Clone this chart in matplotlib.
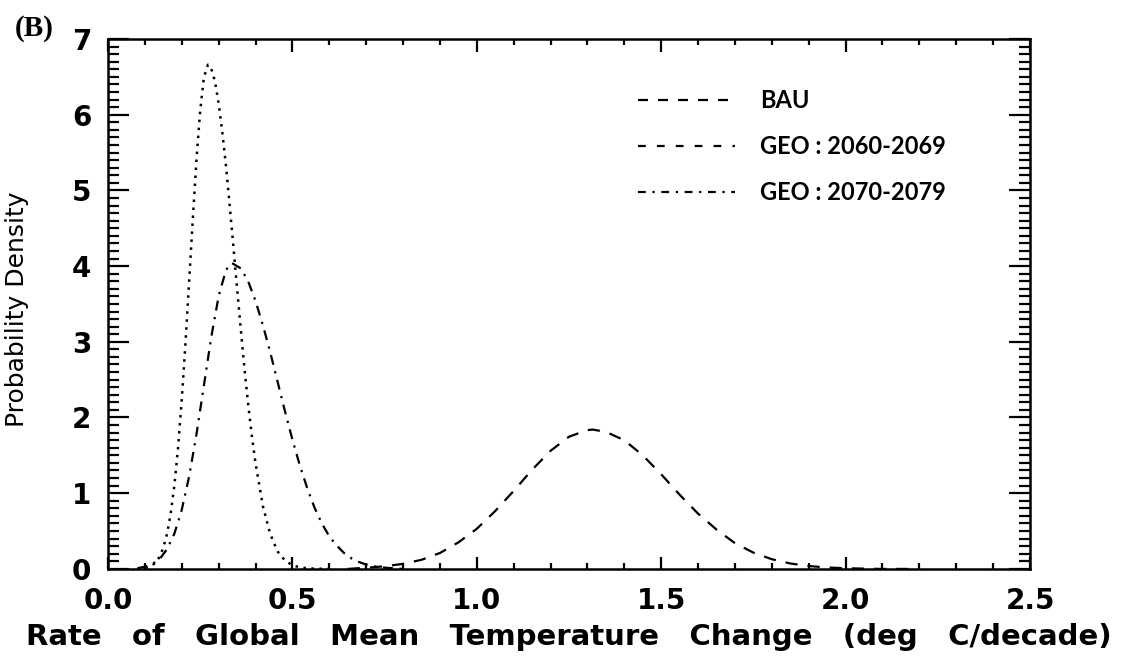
import matplotlib
matplotlib.use("Agg")
import matplotlib.pyplot as plt
from matplotlib.lines import Line2D
from matplotlib.ticker import MultipleLocator, FormatStrFormatter

# curve values
geo_2060_x = [0.08, 0.10, 0.12, 0.13, 0.14, 0.15, 0.16, 0.17, 0.18, 0.19, 0.20, 0.21,
              0.22, 0.23, 0.24, 0.25, 0.26, 0.271, 0.28, 0.29, 0.30, 0.31, 0.32,
              0.33, 0.34, 0.35, 0.36, 0.37, 0.38, 0.39, 0.40, 0.42, 0.44, 0.46,
              0.48, 0.50, 0.52, 0.55, 0.60]
geo_2060_y = [0.0, 0.01, 0.047, 0.089, 0.16, 0.28, 0.46, 0.73, 1.10, 1.60, 2.23, 2.97,
              3.79, 4.62, 5.41, 6.05, 6.49, 6.66, 6.61, 6.44, 6.15, 5.77, 5.32,
              4.80, 4.26, 3.71, 3.17, 2.65, 2.18, 1.76, 1.40, 0.83, 0.46, 0.23,
              0.11, 0.049, 0.02, 0.005, 0.0]

geo_2070_x = [0.08, 0.10, 0.12, 0.14, 0.16, 0.18, 0.20, 0.22, 0.24, 0.26, 0.28, 0.30,
              0.32, 0.336, 0.36, 0.38, 0.40, 0.42, 0.44, 0.46, 0.48, 0.50, 0.52,
              0.54, 0.56, 0.58, 0.60, 0.62, 0.64, 0.66, 0.68, 0.70, 0.72, 0.74,
              0.76, 0.78, 0.80]
geo_2070_y = [0.01, 0.029, 0.064, 0.13, 0.26, 0.465, 0.78, 1.22, 1.78, 2.42, 3.06, 3.60,
              3.95, 4.04, 3.97, 3.80, 3.54, 3.22, 2.86, 2.47, 2.08, 1.71, 1.37,
              1.07, 0.81, 0.60, 0.43, 0.31, 0.21, 0.14, 0.092, 0.058, 0.036, 0.022,
              0.013, 0.007, 0.0]

bau_x = [0.65, 0.70, 0.75, 0.80, 0.85, 0.90, 0.95, 1.00, 1.05, 1.10, 1.15, 1.20, 1.25,
         1.30, 1.315, 1.35, 1.40, 1.45, 1.50, 1.55, 1.60, 1.65, 1.70, 1.75, 1.80,
         1.85, 1.90, 1.95, 2.00, 2.05, 2.10, 2.20]
bau_y = [0.0, 0.016, 0.034, 0.067, 0.12, 0.21, 0.35, 0.53, 0.765, 1.03, 1.31, 1.56, 1.746,
         1.835, 1.84, 1.81, 1.70, 1.50, 1.25, 0.98, 0.73, 0.52, 0.34, 0.215, 0.128,
         0.072, 0.038, 0.019, 0.009, 0.004, 0.0, 0.0]

legend_labels = ["BAU", "GEO : 2060-2069", "GEO : 2070-2079"]

fig = plt.figure(figsize=(11.33, 6.6), dpi=100)
ax = fig.add_axes([0.0953, 0.138, 0.8138, 0.803])

ax.plot(bau_x, bau_y, color="k", lw=1.6, linestyle=(0, (5.5, 4.5)))
ax.plot(geo_2060_x, geo_2060_y, color="k", lw=1.8, linestyle=(0, (1, 2.2)))
ax.plot(geo_2070_x, geo_2070_y, color="k", lw=1.6, linestyle=(0, (4.5, 3, 1, 3)))

ax.set_xlim(0, 2.5)
ax.set_ylim(0, 7)
ax.xaxis.set_major_locator(MultipleLocator(0.5))
ax.xaxis.set_minor_locator(MultipleLocator(0.1))
ax.yaxis.set_major_locator(MultipleLocator(1))
ax.yaxis.set_minor_locator(MultipleLocator(0.1))
ax.xaxis.set_major_formatter(FormatStrFormatter("%.1f"))

ax.tick_params(axis="both", which="both", direction="in", top=True, right=True, width=1.6)
ax.tick_params(axis="x", which="major", length=9, pad=13)
ax.tick_params(axis="x", which="minor", length=4)
ax.tick_params(axis="y", which="major", length=15, pad=12)
ax.tick_params(axis="y", which="minor", length=8)
for lab in ax.get_xticklabels():
    lab.set_fontsize(20)
    lab.set_fontweight("bold")
for lab in ax.get_yticklabels():
    lab.set_fontsize(20)
    lab.set_fontweight("bold")
for sp in ax.spines.values():
    sp.set_linewidth(1.8)

ax.set_xlabel("Rate   of   Global   Mean   Temperature   Change   (deg   C/decade)",
              fontsize=21, fontweight="bold")
ax.xaxis.set_label_coords(0.5, -0.102)
ax.set_ylabel("Probability Density", fontsize=18)
ax.yaxis.set_label_coords(-0.086, 0.49)

handles = [Line2D([], [], color="k", lw=1.6, linestyle=(0, (4.5, 4.5))),
           Line2D([], [], color="k", lw=1.6, linestyle=(0, (3.5, 5))),
           Line2D([], [], color="k", lw=1.6, linestyle=(0, (3.5, 3, 1, 3)))]
ax.legend(handles, legend_labels, loc="upper left", bbox_to_anchor=(0.552, 0.945),
          frameon=False, handlelength=4.1, handletextpad=1.05, labelspacing=0.97,
          prop={"family": "Lato", "weight": "bold", "size": 17})

fig.text(0.013, 0.978, "(B)", family="Liberation Serif", fontweight="bold",
         fontsize=21, va="top", ha="left")

fig.savefig("out.png", dpi=100)
